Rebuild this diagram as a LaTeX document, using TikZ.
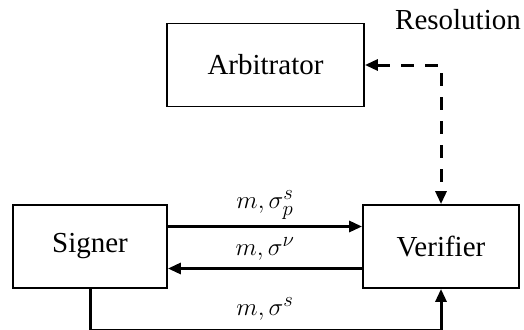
\documentclass[tikz,border=0pt]{standalone}
\usepackage{fontspec}
\setmainfont{Liberation Serif}
\usetikzlibrary{arrows.meta}
\begin{document}
\begin{tikzpicture}[x=1pt,y=-1pt,
  box/.style={draw,line width=1.8pt,minimum height=83pt,inner sep=0pt,font=\fontsize{29}{34}\selectfont},
  conn/.style={line width=3pt,-{Triangle[length=13pt,width=11pt]}},
  dconn/.style={line width=3pt,dash pattern=on 13pt off 11pt,{Triangle[length=13pt,width=11pt]}-{Triangle[length=13pt,width=11pt]}},
  lbl/.style={font=\fontsize{29}{34}\selectfont,inner sep=0pt}]
\useasboundingbox (0,0) rectangle (524,329);
\node[box,minimum width=197pt] (arb) at (265.5,65) {Arbitrator};
\node[box,minimum width=154pt] (sig) at (90,246.5) {Signer};
\node[box,minimum width=156pt] (ver) at (441,246.5) {Verifier};
\node[lbl] (res) at (458,20) {Resolution};
\draw[dconn] (arb.east) -| (ver.north);
\draw[conn] (sig.east |- 0,226.5) -- (ver.west |- 0,226.5);
\draw[conn] (ver.west |- 0,268.5) -- (sig.east |- 0,268.5);
\coordinate (bl) at (0,330.6);
\draw[conn] (sig.south) -- (sig.south |- bl) -| (ver.south);
\node[lbl] (l1) at (265,205) {$m,\sigma_p^s$};
\node[lbl] (l2) at (265,249) {$m,\sigma^\nu$};
\node[lbl] (l3) at (265,309) {$m,\sigma^s$};
\end{tikzpicture}
\end{document}
